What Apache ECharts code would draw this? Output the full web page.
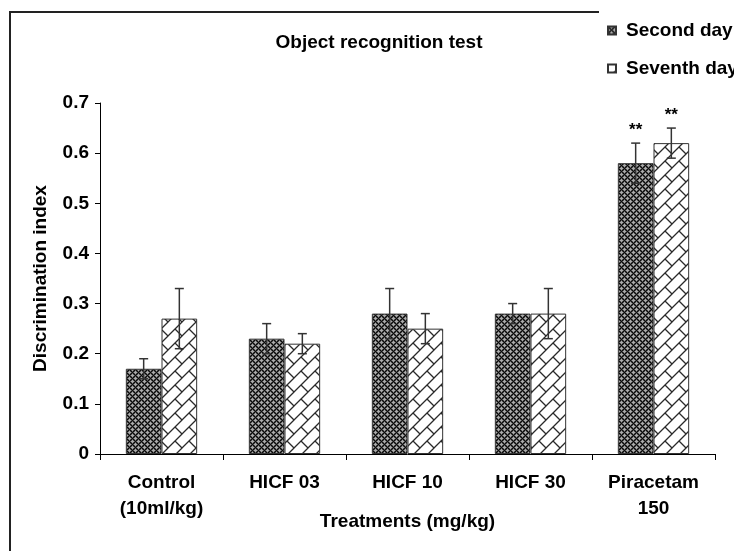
<!DOCTYPE html>
<html>
<head>
<meta charset="utf-8">
<script src="https://cdn.jsdelivr.net/npm/echarts@6/dist/echarts.min.js"></script>
<style>
html,body{margin:0;padding:0;background:#fff;}
#chart{width:734px;height:551px;}
</style>
</head>
<body>
<div id="chart"></div>
<script>
// ---- data ----
const categories = ['Control\n(10ml/kg)', 'HICF 03', 'HICF 10', 'HICF 30', 'Piracetam\n150'];
const secondDay = [0.17, 0.23, 0.28, 0.28, 0.58];
const secondErr = [0.02, 0.03, 0.05, 0.02, 0.04];
const seventhDay = [0.27, 0.22, 0.25, 0.28, 0.62];
const seventhErr = [0.06, 0.02, 0.03, 0.05, 0.03];
const secondSig = ['', '', '', '', '**'];
const seventhSig = ['', '', '', '', '**'];
const seriesNames = ['Second day', 'Seventh day'];
const yTicks = [0, 0.1, 0.2, 0.3, 0.4, 0.5, 0.6, 0.7];

// ---- patterns ----
function darkPattern() {
  const n = 6;
  const c = document.createElement('canvas');
  c.width = n; c.height = n;
  const g = c.getContext('2d');
  g.fillStyle = '#505050'; g.fillRect(0, 0, n, n);
  g.fillStyle = '#0a0a0a';
  for (let y = 0; y < n; y++) for (let x = 0; x < n; x++) {
    if ((x + y) % n === 0 || ((x - y) % n + n) % n === 0) g.fillRect(x, y, 1, 1);
  }
  g.fillStyle = '#ababab';
  [[3,0],[2,0],[4,0],[3,1],[3,5],[0,3],[1,3],[5,3],[0,2],[0,4]].forEach(p => g.fillRect(p[0], p[1], 1, 1));
  return c;
}
function brickPattern() {
  const s = 14;
  const c = document.createElement('canvas');
  c.width = s; c.height = s;
  const g = c.getContext('2d');
  g.fillStyle = '#fff'; g.fillRect(0, 0, s, s);
  g.strokeStyle = '#2a2a2a'; g.lineWidth = 1.3;
  g.beginPath();
  g.moveTo(-2, s + 2); g.lineTo(s + 2, -2);
  g.moveTo(-2, 2); g.lineTo(2, -2);
  g.moveTo(s - 2, s + 2); g.lineTo(s + 2, s - 2);
  g.moveTo(s / 2, s / 2); g.lineTo(s, s);
  g.stroke();
  return c;
}
const fills = [
  { image: darkPattern(), repeat: 'repeat' },
  { image: brickPattern(), repeat: 'repeat' }
];

const FONT = 'Liberation Sans';
const FS = 19;
const chart = echarts.init(document.getElementById('chart'), null, { renderer: 'canvas' });

function errItem(vals, errs, sigs) {
  return vals.map((v, i) => [i, v - errs[i], v + errs[i], sigs[i]]);
}
function makeRender(side) {
  return function (params, api) {
    const idx = api.value(0);
    const lo = api.coord([idx, api.value(1)]);
    const hi = api.coord([idx, api.value(2)]);
    const band = api.size([1, 0])[0];
    const barW = band * 0.29;
    const x = lo[0] + side * barW / 2;
    const cap = 4.5;
    const st = { stroke: '#333', lineWidth: 1.5 };
    const children = [
      { type: 'line', shape: { x1: x, y1: lo[1], x2: x, y2: hi[1] }, style: st },
      { type: 'line', shape: { x1: x - cap, y1: hi[1], x2: x + cap, y2: hi[1] }, style: st },
      { type: 'line', shape: { x1: x - cap, y1: lo[1], x2: x + cap, y2: lo[1] }, style: st }
    ];
    const sig = api.value(3);
    if (sig) {
      children.push({ type: 'text', x: x, y: hi[1] - 4,
        style: { text: sig, fill: '#000', font: 'bold 17px ' + FONT, align: 'center', verticalAlign: 'bottom' } });
    }
    return { type: 'group', children: children };
  };
}

const option = {
  animation: false,
  backgroundColor: '#fff',
  title: {
    text: 'Object recognition test', left: 374, top: 28, textAlign: 'center',
    textStyle: { fontFamily: FONT, fontWeight: 'bold', fontSize: FS, color: '#000' }
  },
  legend: {
    data: seriesNames, orient: 'vertical', left: 602, top: 16, itemGap: 19,
    itemWidth: 8, itemHeight: 8, icon: 'rect',
    textStyle: { fontFamily: FONT, fontWeight: 'bold', fontSize: FS, color: '#000', padding: [0, 0, 0, 5] }
  },
  graphic: [{
    type: 'polyline', silent: true,
    shape: { points: [[10, 551], [10, 12], [599, 12]] },
    style: { stroke: '#222', lineWidth: 2, fill: null }
  }],
  grid: { left: 100, right: 19, top: 103, bottom: 97 },
  xAxis: {
    type: 'category', data: categories,
    name: 'Treatments (mg/kg)', nameLocation: 'middle', nameGap: 58, nameMoveOverlap: false,
    nameTextStyle: { fontFamily: FONT, fontWeight: 'bold', fontSize: FS, color: '#000' },
    axisLine: { lineStyle: { color: '#000', width: 1 } },
    axisTick: { show: true, length: 6, lineStyle: { color: '#000' } },
    axisLabel: { fontFamily: FONT, fontWeight: 'bold', fontSize: FS, color: '#000', margin: 16, lineHeight: 26 }
  },
  yAxis: {
    type: 'value', min: 0, max: 0.7, interval: 0.1,
    name: 'Discrimination index', nameLocation: 'middle', nameGap: 50, nameMoveOverlap: false,
    nameTextStyle: { fontFamily: FONT, fontWeight: 'bold', fontSize: FS, color: '#000' },
    axisLine: { show: true, lineStyle: { color: '#000', width: 1 } },
    axisTick: { show: true, length: 5, lineStyle: { color: '#000' } },
    splitLine: { show: false },
    axisLabel: { fontFamily: FONT, fontWeight: 'bold', fontSize: FS, color: '#000', margin: 11,
      formatter: v => { const t = yTicks.find(k => Math.abs(k - v) < 1e-9); return t === 0 ? '0' : String(+v.toFixed(1)); } }
  },
  series: [
    { name: seriesNames[0], type: 'bar', data: secondDay, barGap: '0%', barCategoryGap: '42%',
      itemStyle: { color: fills[0], borderColor: '#333', borderWidth: 1 } },
    { name: seriesNames[1], type: 'bar', data: seventhDay, barGap: '0%', barCategoryGap: '42%',
      itemStyle: { color: fills[1], borderColor: '#333', borderWidth: 1 } },
    { type: 'custom', renderItem: makeRender(-1), data: errItem(secondDay, secondErr, secondSig),
      encode: { x: 0, y: [1, 2] }, z: 5 },
    { type: 'custom', renderItem: makeRender(1), data: errItem(seventhDay, seventhErr, seventhSig),
      encode: { x: 0, y: [1, 2] }, z: 5 }
  ]
};
chart.setOption(option);
</script>
</body>
</html>
